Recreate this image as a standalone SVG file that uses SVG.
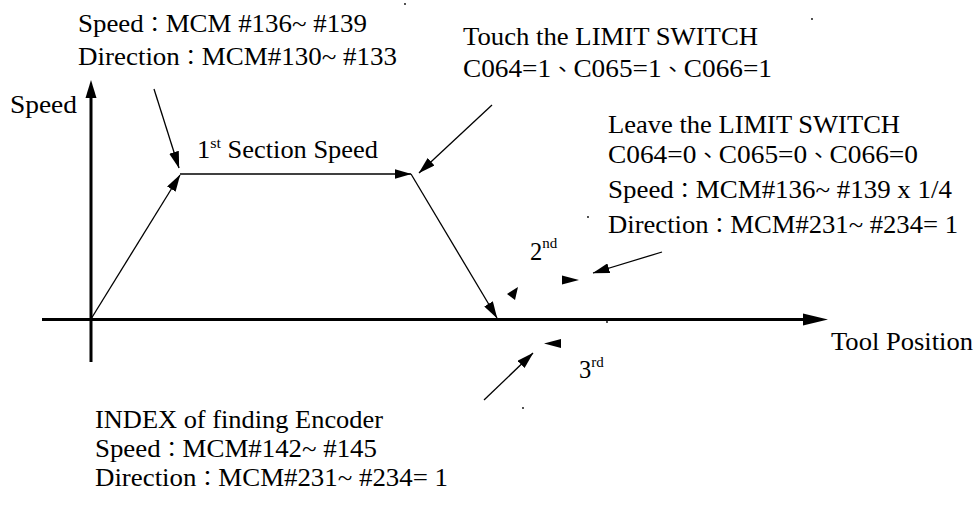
<svg xmlns="http://www.w3.org/2000/svg" width="979" height="510" viewBox="0 0 979 510">
<style>
text { font-family: 'Liberation Serif', 'Times New Roman', 'DejaVu Serif', serif; font-size: 24.5px; fill: #000; }
.cjk { font-family: 'Noto Sans CJK TC', 'Noto Sans CJK SC', sans-serif; font-size: 20px; }
.sup { font-size: 15px; }
.thin { stroke: #000; stroke-width: 1.3; fill: none; marker-end: url(#ah); }
.axis { stroke: #000; stroke-width: 3; fill: none; }
.head { fill: #000; stroke: none; }
</style>
<defs>
<marker id="ah" markerUnits="userSpaceOnUse" viewBox="0 0 17 10" markerWidth="17" markerHeight="10" refX="16.5" refY="5" orient="auto">
<path d="M0,0 L17,5 L0,10 z" fill="#000"/>
</marker>
</defs>
<rect width="979" height="510" fill="#fff"/>

<g id="axes">
<line class="axis" x1="91" y1="362" x2="91" y2="96"/>
<polygon class="head" points="91,80 96.5,98 85.5,98"/>
<line class="axis" x1="42" y1="319.5" x2="806" y2="319.5"/>
<polygon class="head" points="828,319.5 803,313.5 803,325.5"/>
</g>

<g id="connectors">
<line class="thin" x1="91" y1="319" x2="180" y2="175"/>
<line class="thin" x1="180" y1="174" x2="411" y2="174"/>
<line class="thin" x1="411" y1="174" x2="497" y2="318"/>
<line class="thin" x1="154" y1="89" x2="179" y2="168"/>
<line class="thin" x1="492" y1="105" x2="419" y2="173"/>
<line class="thin" x1="662" y1="252" x2="593" y2="273"/>
<line class="thin" x1="484" y1="400" x2="533" y2="353"/>
<polygon class="head" points="562,275.5 579,280 562,284.5"/>
<polygon class="head" points="518,287 507,294 515,300"/>
<polygon class="head" points="544,343.5 561,339 561,348"/>
</g>

<g id="dots" fill="#000">
<circle cx="405" cy="4" r="0.9"/>
<circle cx="812" cy="19" r="0.9"/>
<circle cx="588" cy="217" r="0.9"/>
<circle cx="523" cy="408" r="0.9"/>
<circle cx="607" cy="322" r="0.9"/>
</g>

<g id="label-start">
<text x="78" y="32" textLength="289" lengthAdjust="spacingAndGlyphs">Speed<tspan class="cjk">：</tspan>MCM #136~ #139</text>
<text x="78" y="65" textLength="319" lengthAdjust="spacingAndGlyphs">Direction<tspan class="cjk">：</tspan>MCM#130~ #133</text>
</g>

<g id="label-speed-axis">
<text x="10" y="113" textLength="67" lengthAdjust="spacingAndGlyphs">Speed</text>
</g>

<g id="label-touch">
<text x="463" y="45" textLength="295" lengthAdjust="spacingAndGlyphs">Touch the LIMIT SWITCH</text>
<text x="463" y="77" textLength="309" lengthAdjust="spacingAndGlyphs">C064=1<tspan class="cjk">、</tspan>C065=1<tspan class="cjk">、</tspan>C066=1</text>
</g>

<g id="label-leave">
<text x="608" y="133" textLength="292" lengthAdjust="spacingAndGlyphs">Leave the LIMIT SWITCH</text>
<text x="608" y="163" textLength="310" lengthAdjust="spacingAndGlyphs">C064=0<tspan class="cjk">、</tspan>C065=0<tspan class="cjk">、</tspan>C066=0</text>
<text x="608" y="198" textLength="344" lengthAdjust="spacingAndGlyphs">Speed<tspan class="cjk">：</tspan>MCM#136~ #139 x 1/4</text>
<text x="608" y="233" textLength="350" lengthAdjust="spacingAndGlyphs">Direction<tspan class="cjk">：</tspan>MCM#231~ #234= 1</text>
</g>

<g id="label-1st">
<text x="197" y="158" textLength="181" lengthAdjust="spacingAndGlyphs">1<tspan class="sup" dy="-10">st</tspan><tspan dy="10"> Section Speed</tspan></text>
</g>

<g id="label-2nd">
<text x="530" y="260">2<tspan class="sup" dy="-12">nd</tspan></text>
</g>

<g id="label-3rd">
<text x="579" y="378">3<tspan class="sup" dy="-11">rd</tspan></text>
</g>

<g id="label-tool-position">
<text x="831" y="350" textLength="142" lengthAdjust="spacingAndGlyphs">Tool Position</text>
</g>

<g id="label-index">
<text x="95" y="428" textLength="288" lengthAdjust="spacingAndGlyphs">INDEX of finding Encoder</text>
<text x="95" y="457" textLength="282" lengthAdjust="spacingAndGlyphs">Speed<tspan class="cjk">：</tspan>MCM#142~ #145</text>
<text x="95" y="486" textLength="353" lengthAdjust="spacingAndGlyphs">Direction<tspan class="cjk">：</tspan>MCM#231~ #234= 1</text>
</g>
</svg>
